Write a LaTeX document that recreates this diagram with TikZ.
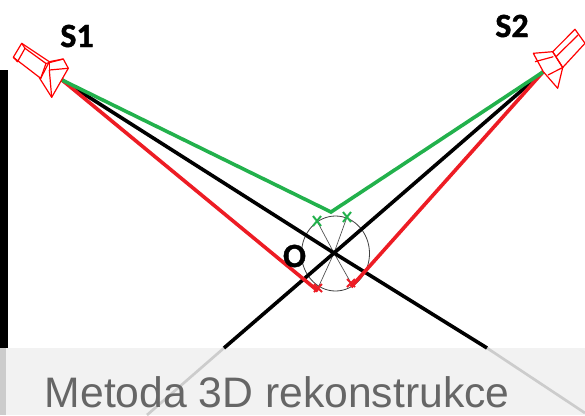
\documentclass[tikz,border=0pt]{standalone}
\usepackage{fontspec}
\setmainfont{Liberation Sans}
\newfontfamily\carlitofont{Carlito}[BoldFeatures={FakeBold=1.2}]
\definecolor{gr}{HTML}{22B14C}
\definecolor{rd}{HTML}{ED1C24}
\definecolor{band}{HTML}{F2F2F2}
\definecolor{faded}{HTML}{CCCCCC}
\definecolor{titlegray}{HTML}{666666}
\tikzset{
  x=0.75pt,y=-0.75pt,
  ray/.style={line width=2.7pt},
  cam/.style={draw={red},line width=0.9pt,line join=round},
  lab/.style={font=\carlitofont\bfseries\fontsize{25.5}{26}\selectfont,text=black,inner sep=0pt}
}
\begin{document}
\begin{tikzpicture}
\useasboundingbox (0,0) rectangle (585,415);
\fill[white] (0,0) rectangle (585,415);
\coordinate (S1p) at (62,80);
\coordinate (S2p) at (543,72);
\coordinate (C) at (334,253);
\coordinate (G) at (331,212);
\coordinate (R1) at (318,291);
\coordinate (R2) at (351,287);
\coordinate (Bl) at (224,348);
\coordinate (Br) at (487,348);
\coordinate (El) at (147,415);
\coordinate (Er) at (585,413);
% left bar
\fill[black] (0,70) rectangle (8,348);
% band
\fill[band] (0,348) rectangle (585,415);
\fill[faded] (0,348) rectangle (6,415);
\draw[faded,line width=2pt] (Bl) -- (El);
\draw[faded,line width=2pt] (Br) -- (Er);
% circle
\draw[black!75,line width=0.6pt] (335.5,253.5) ellipse [x radius=34,y radius=37.5];
% thin lines
\coordinate (g1) at (317,221);
\coordinate (g2) at (347,217);
\coordinate (r1) at (318,288);
\coordinate (r2) at (351,283);
\foreach \p in {g1,g2,r1,r2} \draw[black!70,line width=0.5pt] (C) -- (\p);
% rays
\draw[black,ray] (S1p) -- (C) -- (Br);
\draw[black,ray] (S2p) -- (C) -- (Bl);
\draw[rd,ray] (S1p) -- (R1);
\draw[rd,ray] (S2p) -- (R2);
\draw[gr,ray,line join=miter] (S1p) -- (G) -- (S2p);
% x marks
\foreach \p in {g1,g2}
  \draw[gr,line width=1.5pt] ([shift={(-4,-5)}]\p) -- ([shift={(4,5)}]\p) ([shift={(4,-5)}]\p) -- ([shift={(-4,5)}]\p);
\foreach \p in {r1,r2}
  \draw[rd,line width=1.5pt] ([shift={(-4,-4)}]\p) -- ([shift={(4,4)}]\p) ([shift={(4,-4)}]\p) -- ([shift={(-4,4)}]\p);
% camera S1
\begin{scope}[cam]
\draw (21.7,43.3) -- (13.3,57.3) -- (40.7,78.3) -- (49.3,61.7) -- cycle;
\draw (13.3,57.3) -- (17.5,61.7) -- (25,48.3) -- (21.7,43.3);
\draw (25,48.3) -- (46,63.5) -- (40.7,78.3);
\draw (49.3,61.7) -- (63.3,59) -- (68.3,68.3) -- (51.7,97.3) -- (39.3,77.7);
\draw (46,63.5) -- (63.3,59);
\draw (49.3,70) -- (68.3,68.3);
\draw (49.3,70) -- (51.7,97.3);
\draw (49.3,61.7) -- (49.3,70);
\end{scope}
% camera S2
\begin{scope}[cam]
\draw (575,29.3) -- (585,43.3) -- (562.7,67.5) -- (552.7,51.7) -- cycle;
\draw (578,35) -- (556,56.7);
\draw (533.3,53.3) -- (552.7,51.7) -- (562.7,67.5) -- (557.7,88.3) -- (543.3,71.7) -- cycle;
\draw (535,61.7) -- (553.3,56.7);
\draw (562.7,67.5) -- (548,75);
\end{scope}
% labels
\node[lab] (s1) at (77,36) {S1};
\node[lab] (s2) at (512,26) {S2};
\node[lab] (o) at (294.5,256) {O};
\node[anchor=base west,inner sep=0pt,text=titlegray,font=\fontsize{32}{32}\selectfont] (title) at (44.5,407.5) {Metoda 3D rekonstrukce};
\end{tikzpicture}
\end{document}
